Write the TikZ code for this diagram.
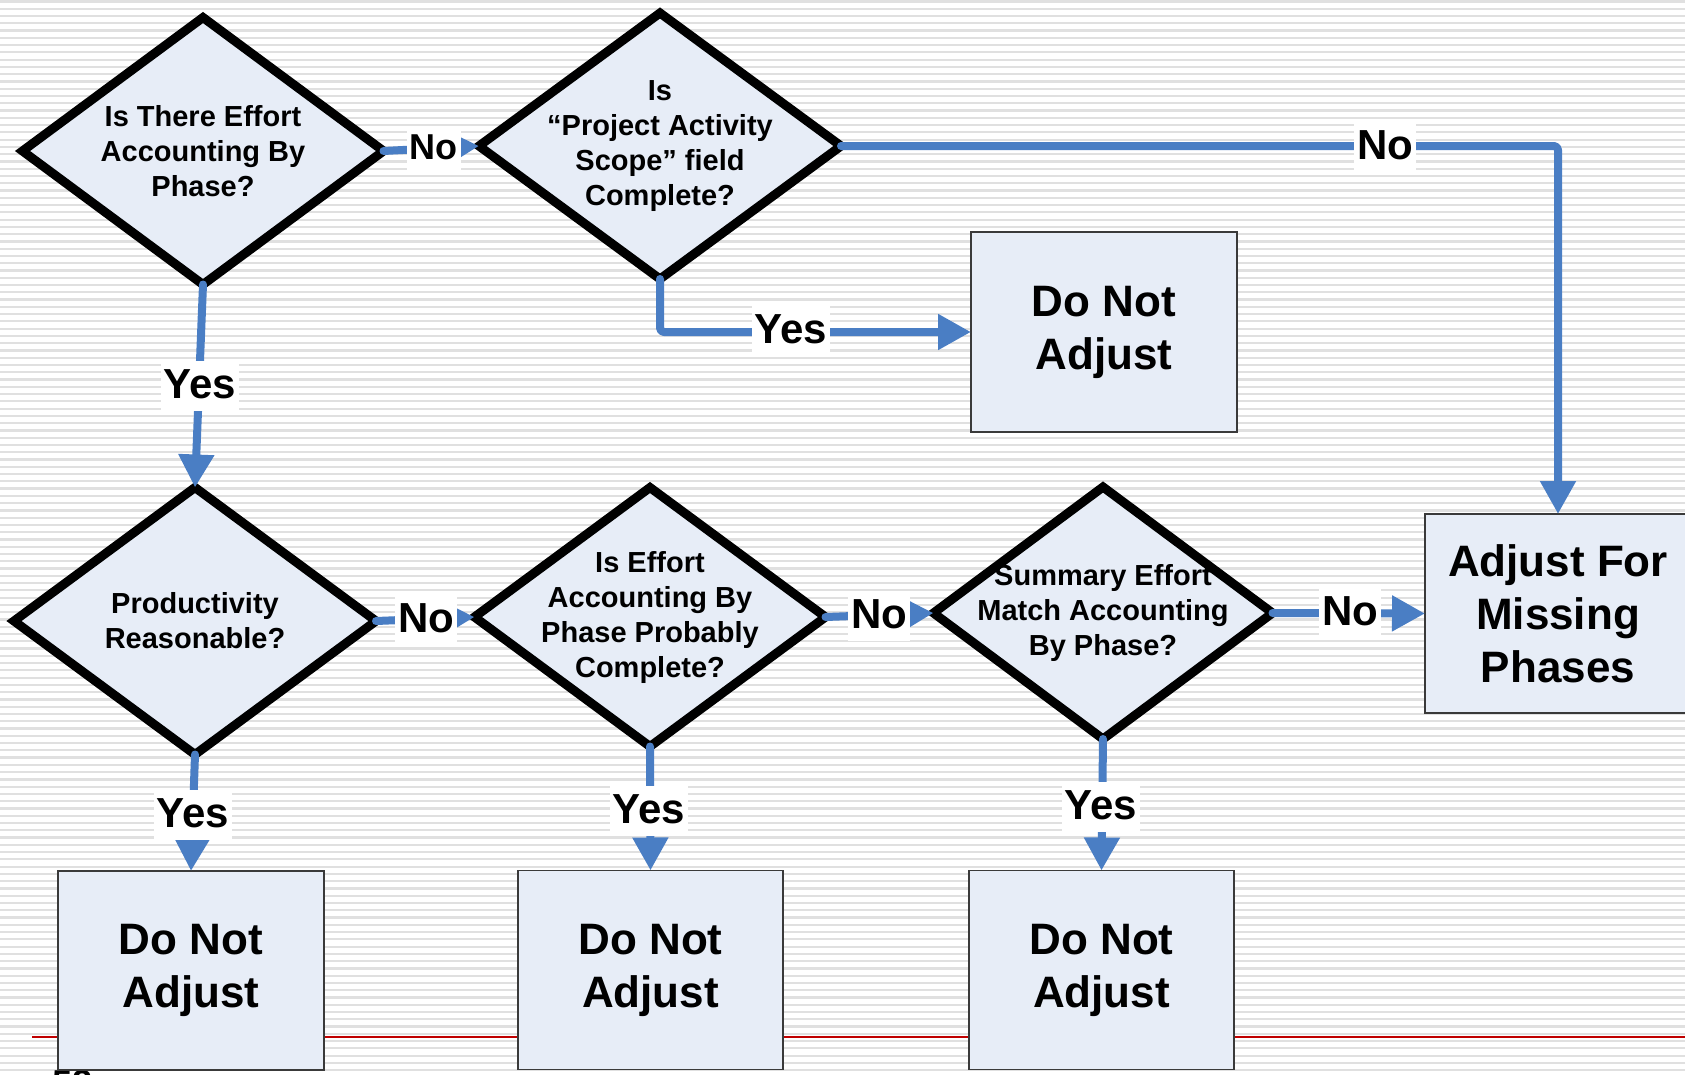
\documentclass[tikz,border=0pt]{standalone}
\usepackage{fontspec}
\setmainfont{Liberation Sans}
\usetikzlibrary{arrows.meta,shapes.geometric}
\definecolor{flowblue}{HTML}{4A7EC4}
\definecolor{boxfill}{HTML}{E7EDF7}
\definecolor{stripegray}{HTML}{E0E0E0}
\definecolor{redline}{HTML}{C00000}
\definecolor{boxedge}{HTML}{3A3A3A}
\tikzset{
  decision/.style={diamond, draw=black, line width=9pt, fill=boxfill, inner sep=0pt, outer sep=0pt, line join=miter},
  qtext/.style={align=center, font=\bfseries\fontsize{29}{35}\selectfont, inner sep=0pt},
  actbox/.style={rectangle, draw=boxedge, line width=1.6pt, fill=boxfill, minimum width=266pt, minimum height=199pt, inner sep=0pt, outer sep=0pt, align=center, font=\bfseries\fontsize{44}{53}\selectfont},
  flow/.style={draw=flowblue, line width=8pt, line cap=round, line join=round, -{Triangle[length=33pt,width=34pt]}},
  lbl/.style={fill=white, inner xsep=3pt, inner ysep=4pt, text height=33pt, text depth=9pt, font=\bfseries\fontsize{42}{48}\selectfont},
  lblsmall/.style={lbl, text height=28pt, text depth=8pt, font=\bfseries\fontsize{36}{42}\selectfont},
}
\begin{document}
\begin{tikzpicture}[x=1pt,y=-1pt]
\useasboundingbox (0,0) rectangle (1685,1074);
\clip (0,0) rectangle (1685,1074);
\fill[white] (0,0) rectangle (1685,1074);
\foreach \k in {0,...,147} {
  \draw[stripegray, line width=2.2pt] (0,{1.5+7.27*\k}) -- (1685,{1.5+7.27*\k});
}
% red rule
\coordinate (rl) at (32,1037);
\coordinate (rr) at (1685,1037);
\draw[redline, line width=1.5pt] (rl) -- (rr);
% page number (cut off at the bottom edge, as in the reference)
\node[anchor=base west, inner sep=0pt, font=\bfseries\fontsize{36}{40}\selectfont] (pg) at (52,1095) {58};

% decisions
\node[decision, minimum width=361pt, minimum height=267pt] (D1) at (203,151) {};
\node[decision, minimum width=362pt, minimum height=266pt] (D2) at (660,146) {};
\node[decision, minimum width=362pt, minimum height=267pt] (D3) at (195,621) {};
\node[decision, minimum width=351pt, minimum height=259pt] (D4) at (650,617) {};
\node[decision, minimum width=339pt, minimum height=252pt] (D5) at (1103,613) {};

\node[qtext] (T1) at (D1.center) {Is There Effort\\Accounting By\\Phase?};
\node[qtext] (T2) at (D2.center) {Is\\“Project Activity\\Scope” field\\Complete?};
\node[qtext] (T3) at (D3.center) {Productivity\\Reasonable?};
\node[qtext] (T4) at (D4.center) {Is Effort\\Accounting By\\Phase Probably\\Complete?};
\node[qtext] (T5) at (D5.center) {Summary Effort\\Match Accounting\\By Phase?};

% action boxes
\node[actbox, minimum height=200pt] (BT) at (1104,332) {Do Not\\Adjust};
\node[actbox] (BA) at (1558,613.5) {Adjust For\\Missing\\Phases};
\node[actbox] (B1) at (191,970.5) {Do Not\\Adjust};
\node[actbox, minimum width=265pt] (B2) at (650.5,970) {Do Not\\Adjust};
\node[actbox, minimum width=265pt] (B3) at (1101.5,970) {Do Not\\Adjust};

% connectors
\draw[flow] (D1.east) -- (D2.west);
\draw[flow, rounded corners=4pt] (D2.east) -| (BA.north);
\draw[flow, rounded corners=4pt] (D2.south) |- (BT.west);
\draw[flow] (D1.south) -- (D3.north);
\draw[flow] (D3.east) -- (D4.west);
\draw[flow] (D4.east) -- (D5.west);
\draw[flow] (D5.east) -- (BA.west);
\draw[flow] (D3.south) -- (B1.north);
\draw[flow] (D4.south) -- (B2.north);
\draw[flow] (D5.south) -- (B3.north);

% labels
\node[lblsmall] (L1) at (433.5,149) {No};
\node[lbl] (L2) at (1385,147) {No};
\node[lbl] (L3) at (791,331) {Yes};
\node[lbl] (L4) at (200,386) {Yes};
\node[lbl] (L5) at (426,620) {No};
\node[lbl] (L6) at (879,616) {No};
\node[lbl] (L7) at (1350,613) {No};
\node[lbl] (L8) at (193,815) {Yes};
\node[lbl] (L9) at (649,811) {Yes};
\node[lbl] (L10) at (1101,807) {Yes};
\end{tikzpicture}
\end{document}
